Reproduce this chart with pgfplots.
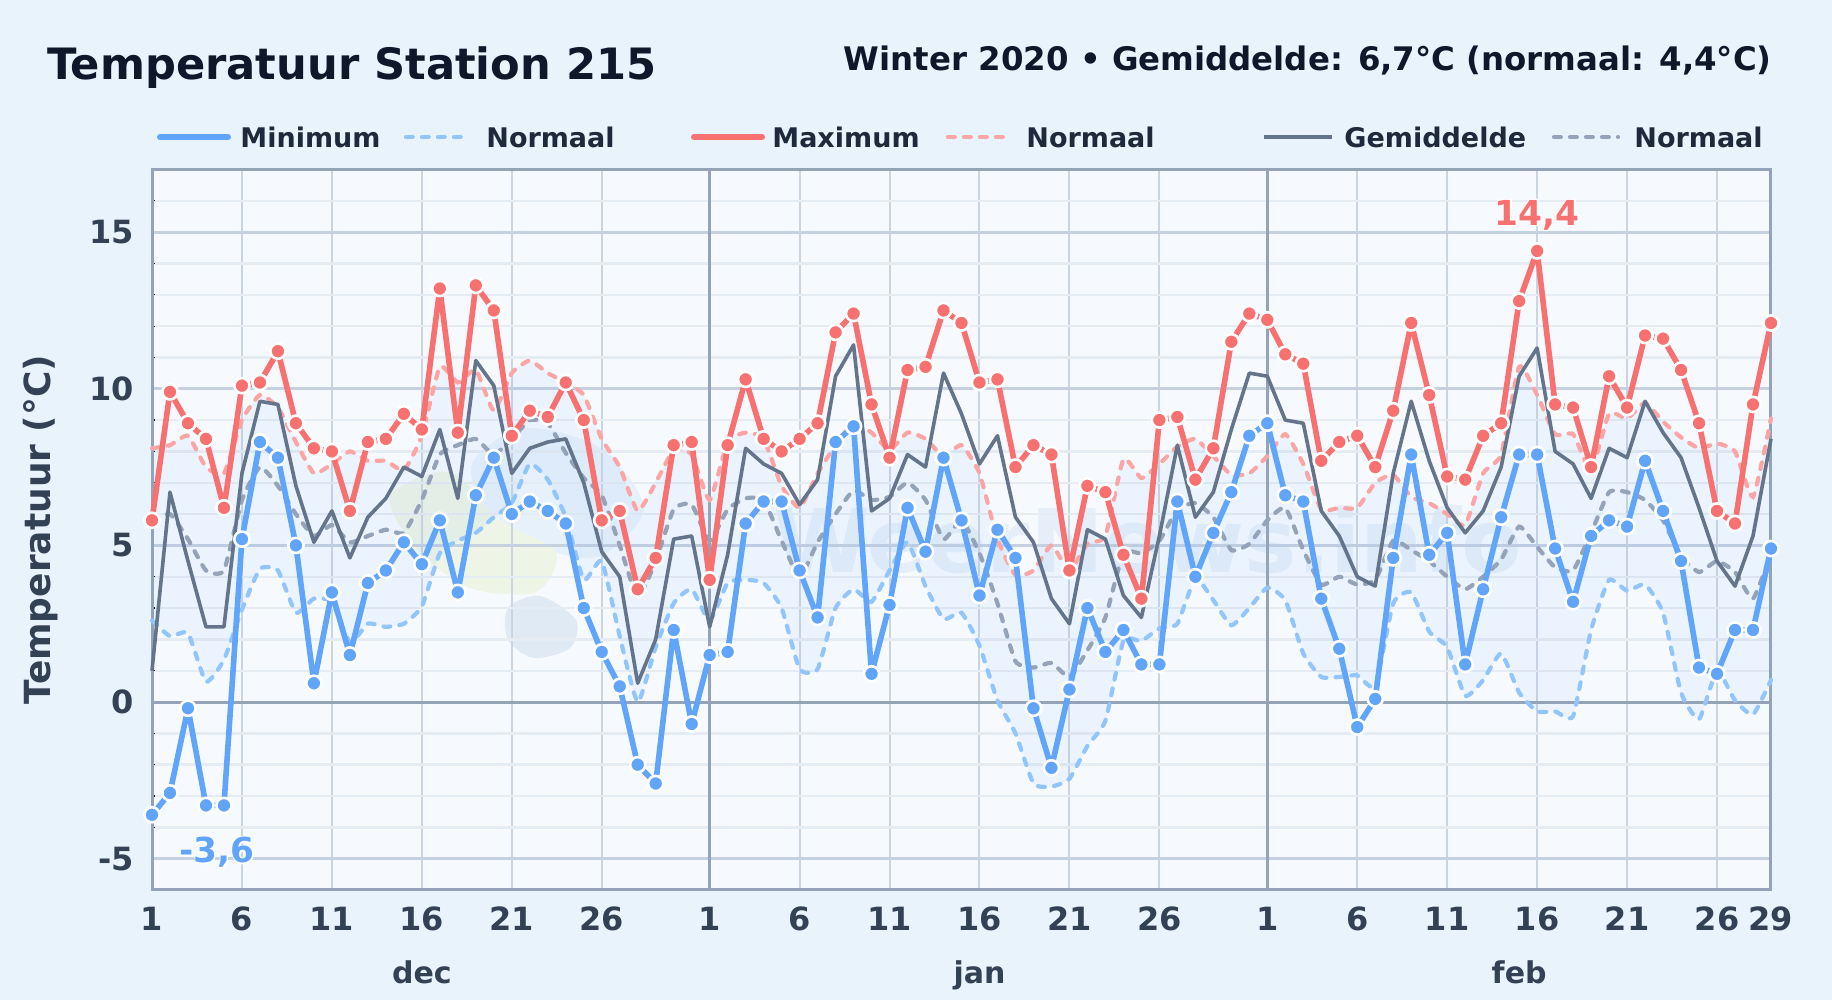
\documentclass[border=0pt]{standalone}
\usepackage{fontspec}
\usepackage{pgfplots}
\usepackage{pgfplotstable}
\usepgfplotslibrary{fillbetween}
\pgfplotsset{compat=1.18}
\setmainfont{DejaVu Sans}
\newfontface\haloface{DejaVu Sans Bold}[FakeBold=7]

\definecolor{pagebg}{HTML}{E9F3FC}
\definecolor{plotbg}{HTML}{F6FAFF}
\definecolor{titlecol}{HTML}{0F172A}
\definecolor{legcol}{HTML}{1E293B}
\definecolor{tickcol}{HTML}{334155}
\definecolor{framecol}{HTML}{94A3B8}
\definecolor{gridmaj}{HTML}{C5D0E0}
\definecolor{gridv}{HTML}{CBD5E1}
\definecolor{gridmin}{HTML}{E6ECF3}
\definecolor{mincol}{HTML}{60A5FA}
\definecolor{nmincol}{HTML}{93C5FD}
\definecolor{maxcol}{HTML}{F87171}
\definecolor{nmaxcol}{HTML}{FCA5A5}
\definecolor{avgcol}{HTML}{64748B}
\definecolor{navgcol}{HTML}{94A3B8}
\definecolor{blobblue}{HTML}{DBEBFB}
\definecolor{blobgreen}{HTML}{EEF4E6}
\definecolor{blobgray}{HTML}{E0EAF4}
\definecolor{wmark}{HTML}{E6EFF9}

% day = running day number, 0 = 1 dec
\pgfplotstableread{
day  tmin nmin tmax nmax tavg navg
0    -3.6 2.6  5.8  8.1  1.0  5.8
1    -2.9 2.1  9.9  8.2  6.7  6.0
2    -0.2 2.2  8.9  8.5  4.5  5.2
3    -3.3 0.65 8.4  7.5  2.4  4.2
4    -3.3 1.35 6.2  7.3  2.4  4.2
5    5.2  2.95 10.1 9.0  7.3  6.45
6    8.3  4.25 10.2 9.8  9.6  7.5
7    7.8  4.2  11.2 9.4  9.5  6.9
8    5.0  2.85 8.9  8.3  6.9  6.0
9    0.6  3.3  8.1  7.3  5.1  5.3
10   3.5  3.2  8.0  7.6  6.1  5.65
11   1.5  1.9  6.1  8.0  4.6  5.1
12   3.8  2.5  8.3  7.7  5.9  5.3
13   4.2  2.4  8.4  7.7  6.5  5.5
14   5.1  2.5  9.2  7.4  7.5  5.4
15   4.4  3.05 8.7  8.5  7.2  6.45
16   5.8  4.75 13.2 10.7 8.7  7.9
17   3.5  5.15 8.6  10.2 6.5  8.2
18   6.6  5.4  13.3 10.6 10.9 8.4
19   7.8  5.9  12.5 9.3  10.1 7.9
20   6.0  6.35 8.5  10.5 7.3  8.4
21   6.4  7.6  9.3  10.9 8.1  9.0
22   6.1  7.1  9.1  10.5 8.3  8.9
23   5.7  5.9  10.2 10.2 8.4  7.95
24   3.0  3.9  9.0  9.8  7.0  7.15
25   1.6  4.5  5.8  8.4  4.8  6.6
26   0.5  2.1  6.1  7.5  4.0  5.0
27   -2.0 0.0  3.6  6.1  0.6  3.35
28   -2.6 1.75 4.6  7.0  2.0  4.5
29   2.3  3.15 8.2  8.05 5.2  6.15
30   -0.7 3.6  8.3  7.9  5.3  6.3
31   1.5  2.6  3.9  6.45 2.4  5.15
32   1.6  3.8  8.2  8.3  4.7  6.15
33   5.7  3.9  10.3 8.6  8.1  6.5
34   6.4  3.8  8.4  8.4  7.6  6.45
35   6.4  3.0  8.0  6.9  7.3  5.15
36   4.2  1.05 8.4  6.2  6.3  4.0
37   2.7  1.05 8.9  7.3  7.1  5.1
38   8.3  3.0  11.8 8.2  10.4 6.0
39   8.8  3.6  12.4 8.9  11.4 6.75
40   0.9  3.2  9.5  8.6  6.1  6.45
41   3.1  4.2  7.8  8.05 6.5  6.55
42   6.2  5.1  10.6 8.6  7.9  7.0
43   4.8  3.7  10.7 8.4  7.5  6.45
44   7.8  2.65 12.5 7.85 10.5 5.2
45   5.8  2.85 12.1 8.2  9.2  5.8
46   3.4  1.8  10.2 7.3  7.6  4.75
47   5.5  0.05 10.3 5.2  8.5  3.15
48   4.6  -1.0 7.5  4.05 5.9  1.3
49   -0.2 -2.6 8.2  4.2  5.1  1.1
50   -2.1 -2.7 7.9  5.0  3.3  1.25
51   0.4  -2.45 4.2 4.2  2.5  0.8
52   3.0  -1.4 6.9  5.05 5.5  1.65
53   1.6  -0.6 6.7  5.3  5.2  2.7
54   2.3  1.95 4.7  7.75 3.4  4.75
55   1.2  1.95 3.3  7.15 2.7  4.75
56   1.2  2.35 9.0  7.6  5.3  5.15
57   6.4  2.5  9.1  8.15 8.2  6.15
58   4.0  3.95 7.1  8.4  5.9  6.35
59   5.4  3.25 8.1  7.85 6.7  5.9
60   6.7  2.45 11.5 7.25 8.7  4.85
61   8.5  3.0  12.4 7.3  10.5 5.05
62   8.9  3.65 12.2 7.85 10.4 5.8
63   6.6  3.25 11.1 8.55 9.0  6.2
64   6.4  1.55 10.8 7.6  8.9  4.85
65   3.3  0.8  7.7  6.15 6.1  3.75
66   1.7  0.8  8.3  6.2  5.3  4.0
67   -0.8 0.85 8.5  6.2  4.0  3.75
68   0.1  0.5  7.5  7.0  3.7  3.9
69   4.6  3.15 9.3  7.25 7.3  5.15
70   7.9  3.5  12.1 6.55 9.6  4.85
71   4.7  2.25 9.8  6.35 7.7  4.5
72   5.4  1.75 7.2  6.0  6.2  4.0
73   1.2  0.2  7.1  5.65 5.4  3.6
74   3.6  0.7  8.5  7.3  6.1  4.0
75   5.9  1.55 8.9  7.9  7.5  4.55
76   7.9  0.3  12.8 10.7 10.4 5.6
77   7.9  -0.3 14.4 9.8  11.3 4.95
78   4.9  -0.3 9.5  8.55 8.0  4.3
79   3.2  -0.45 9.4 8.55 7.6  4.2
80   5.3  2.3  7.5  7.4  6.5  5.4
81   5.8  3.9  10.4 9.2  8.1  6.7
82   5.6  3.55 9.4  9.05 7.8  6.7
83   7.7  3.75 11.7 9.55 9.6  6.45
84   6.1  2.85 11.6 8.95 8.6  5.8
85   4.5  0.3  10.6 8.45 7.8  4.65
86   1.1  -0.55 8.9 8.1  6.2  4.15
87   0.9  1.0  6.1  8.25 4.5  4.5
88   2.3  0.05 5.7  8.0  3.7  4.15
89   2.3  -0.4 9.5  6.55 5.3  3.3
90   4.9  0.7  12.1 9.05 8.4  4.75
}\temps

\tikzset{
  solidline/.style={line width=2.8pt, line join=round},
  dashline/.style={line width=2.1pt, dash pattern=on 3.4pt off 4.6pt, line cap=round},
  dot/.style={mark=*, mark size=3.8pt, mark options={solid, fill=#1, draw=white, line width=1.3pt}},
}

\begin{document}
\begin{tikzpicture}[x=1pt, y=1pt]

% titles
\node[anchor=west, inner sep=0pt, font=\bfseries\fontsize{21.6}{25}\selectfont, text=titlecol] at (23.4,466) {Temperatuur Station 215};
\node[anchor=east, inner sep=0pt, font=\bfseries\fontsize{16.2}{19}\selectfont, text=titlecol] at (886,469.5) {Winter 2020 • Gemiddelde: 6,7°C (normaal: 4,4°C)};

% legend
\begin{scope}[font=\bfseries\fontsize{13.5}{16}\selectfont, text=legcol]
  \draw[mincol, line width=3pt, line cap=round] (80,431.5) -- (114,431.5);
  \node[anchor=west, inner sep=0pt] at (120,431.5) {Minimum};
  \draw[nmincol, dashline] (203,431.5) -- (232,431.5);
  \node[anchor=west, inner sep=0pt] at (243,431.5) {Normaal};
  \draw[maxcol, line width=3pt, line cap=round] (347,431.5) -- (381,431.5);
  \node[anchor=west, inner sep=0pt] at (386,431.5) {Maximum};
  \draw[nmaxcol, dashline] (474,431.5) -- (503,431.5);
  \node[anchor=west, inner sep=0pt] at (513,431.5) {Normaal};
  \draw[avgcol, line width=2.2pt] (632,431.5) -- (666,431.5);
  \node[anchor=west, inner sep=0pt] at (672,431.5) {Gemiddelde};
  \draw[navgcol, dashline] (777,431.5) -- (809,431.5);
  \node[anchor=west, inner sep=0pt] at (817,431.5) {Normaal};
\end{scope}

\begin{axis}[
  at={(76pt,55pt)}, anchor=south west,
  scale only axis, width=809.5pt, height=360.25pt,
  xmin=0, xmax=90, ymin=-6, ymax=17,
  clip=false,
  axis line style={framecol, line width=1.5pt},
  tick label style={font=\bfseries\fontsize{16}{18}\selectfont, text=tickcol},
  /pgf/number format/assume math mode=true,
  xtick={0,5,10,15,20,25,31,36,41,46,51,56,62,67,72,77,82,87,90},
  xticklabels={1,6,11,16,21,26,1,6,11,16,21,26,1,6,11,16,21,26,29},
  ytick={-5,0,5,10,15},
  minor ytick={-6,-4,-3,-2,-1,1,2,3,4,6,7,8,9,11,12,13,14,16,17},
  ytick pos=left, xtick pos=bottom,
  major tick length=0pt,
  minor tick length=1.5pt,
  minor tick style={black, line width=0.6pt},
  xmajorgrids, ymajorgrids, yminorgrids,
  major x grid style={gridv, line width=1pt},
  major y grid style={gridmaj, line width=1.5pt},
  minor y grid style={gridmin, line width=1.2pt},
  xticklabel style={yshift=-5pt},
  yticklabel style={xshift=-5.5pt},
  ylabel={Temperatuur (°C)},
  ylabel style={font=\bfseries\fontsize{18}{20}\selectfont, text=tickcol, anchor=center, at={(rel axis cs:-0.069,0.5)}},
]
  % page and plot background, with the faint logo; on the lowest layer so the grid stays visible
  \pgfplotsextra{%
  \begin{pgfonlayer}{axis background}
  \begin{scope}[shift={(rel axis cs:-0.093885,-0.152672)}]
    \fill[pagebg] (0pt,0pt) rectangle (916pt,500pt);
    \fill[plotbg] (76pt,55pt) rectangle (885.5pt,415.25pt);
    \fill[blobblue, opacity=0.55] plot[smooth cycle] coordinates {(236pt,268pt) (262pt,286pt) (300pt,276pt) (322pt,246pt) (300pt,222pt) (270pt,226pt) (245pt,240pt)};
    \fill[blobgreen] plot[smooth cycle] coordinates {(195pt,252pt) (225pt,264pt) (250pt,240pt) (278pt,224pt) (268pt,204pt) (235pt,206pt) (208pt,226pt)};
    \fill[blobgray] plot[smooth cycle] coordinates {(254pt,196pt) (270pt,202pt) (288pt,190pt) (285pt,176pt) (267pt,171pt) (254pt,180pt)};
    \node[text=wmark, font=\bfseries\fontsize{44}{50}\selectfont] at (574pt,230pt) {WeerNews.info};
  \end{scope}
  \end{pgfonlayer}}

  % month boundaries and the zero line are darker than the rest of the grid
  \draw[framecol, line width=1.2pt] (axis cs:31,-6) -- (axis cs:31,17);
  \draw[framecol, line width=1.2pt] (axis cs:62,-6) -- (axis cs:62,17);
  \draw[framecol, line width=1.5pt] (axis cs:0,0) -- (axis cs:90,0);

  % normals, with the band between them
  \addplot[nmincol, dashline, smooth, tension=0.3, name path=nminline] table[x=day, y=nmin] {\temps};
  \addplot[nmaxcol, dashline, smooth, tension=0.3, name path=nmaxline] table[x=day, y=nmax] {\temps};
  \addplot[mincol, fill opacity=0.07, draw=none] fill between[of=nminline and nmaxline];
  \addplot[navgcol, dashline, smooth, tension=0.3] table[x=day, y=navg] {\temps};

  \addplot[avgcol, line width=1.8pt, line join=round] table[x=day, y=tavg] {\temps};
  \addplot[mincol, solidline, dot=mincol] table[x=day, y=tmin] {\temps};
  \addplot[maxcol, solidline, dot=maxcol] table[x=day, y=tmax] {\temps};

  % month names
  \node[anchor=base, font=\bfseries\fontsize{15}{17}\selectfont, text=tickcol] at (axis cs:15,-8.98) {dec};
  \node[anchor=base, font=\bfseries\fontsize{15}{17}\selectfont, text=tickcol] at (axis cs:46,-8.98) {jan};
  \node[anchor=base, font=\bfseries\fontsize{15}{17}\selectfont, text=tickcol] at (axis cs:76,-8.98) {feb};

  % extremes
  \node[text=white, font=\haloface\fontsize{17.2}{19}\selectfont] at (axis cs:77,15.55) {14,4};
  \node[text=maxcol, font=\bfseries\fontsize{17.2}{19}\selectfont] at (axis cs:77,15.55) {14,4};
  \node[text=white, font=\haloface\fontsize{17.2}{19}\selectfont] at (axis cs:3.6,-4.8) {-3,6};
  \node[text=mincol, font=\bfseries\fontsize{17.2}{19}\selectfont] at (axis cs:3.6,-4.8) {-3,6};
\end{axis}
\end{tikzpicture}
\end{document}
